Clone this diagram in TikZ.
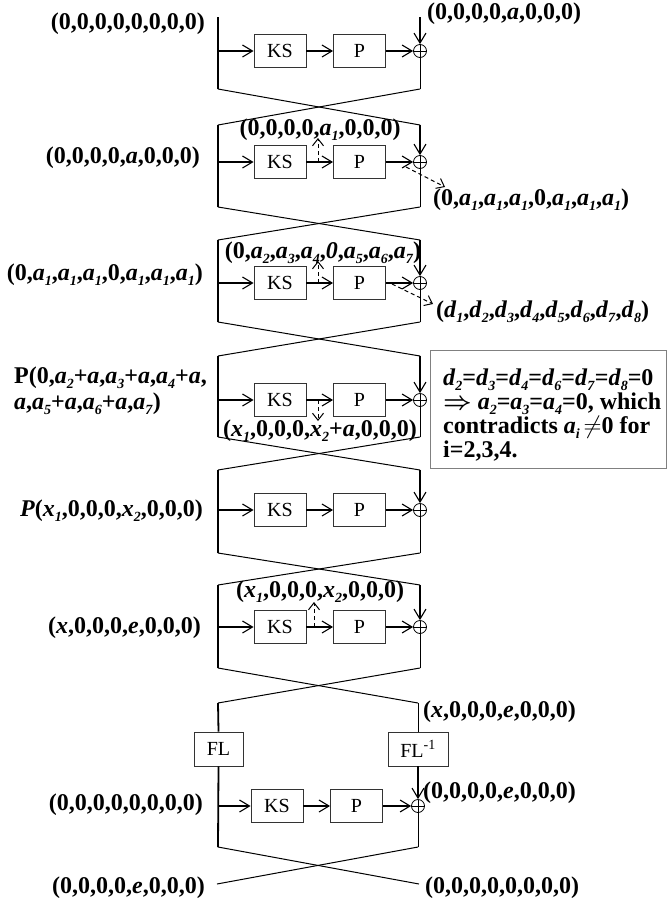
\documentclass[tikz,border=0pt]{standalone}
\usepackage{fontspec}
\setmainfont{Liberation Serif}
\usetikzlibrary{arrows.meta}
\newcommand\sv[2]{\textit{#1}\raisebox{-0.22em}{\fontsize{14}{14}\selectfont\textit{#2}}}
\begin{document}
\begin{tikzpicture}[x=1pt,y=-1pt,
 lbl/.style={font=\fontsize{24}{26}\selectfont\bfseries, inner sep=0pt},
 blk/.style={draw=black!80, line width=0.9pt, minimum width=52pt, minimum height=33pt, inner sep=0pt, font=\fontsize{20}{20}\selectfont},
 arr/.style={line width=1.1pt, -{Straight Barb[length=10pt,width=12pt]}},
 dar/.style={line width=1pt, dash pattern=on 4pt off 3pt, -{Straight Barb[length=7pt,width=11pt]}},
 ln/.style={line width=1pt},
 thk/.style={line width=1.8pt},
 xorn/.style={circle, draw, minimum size=13pt, inner sep=0pt, line width=0.8pt,
   path picture={\draw[line width=0.8pt] (path picture bounding box.north) -- (path picture bounding box.south) (path picture bounding box.west) -- (path picture bounding box.east);}}
]
\useasboundingbox (0,0) rectangle (667,903);

% rounds 1-6
\foreach \r/\t/\m/\b in {1/17/51/89,2/125/162/207,3/240/283/322,4/356/400/437,5/470/510/553,6/585/627/668}{
  \coordinate (tl\r) at (218,\t);
  \coordinate (ml\r) at (218,\m);
  \coordinate (bl\r) at (218,\b);
  \coordinate (tr\r) at (420,\t);
  \coordinate (br\r) at (420,\b);
  \node[blk] (ks\r) at (280,\m) {KS};
  \node[blk] (p\r) at (359.5,\m) {P};
  \node[xorn] (x\r) at (420,\m) {};
  \draw[thk] (tl\r) -- (bl\r);
  \draw[arr] (ml\r) -- (ks\r);
  \draw[arr] (ks\r) -- (p\r);
  \draw[arr] (p\r) -- (x\r);
  \draw[arr] (tr\r) -- (x\r);
  \draw[ln] (x\r) -- (br\r);
}
\foreach \r/\n in {1/2,2/3,3/4,4/5,5/6}{
  \draw[ln] (bl\r) -- (tr\n);
  \draw[ln] (br\r) -- (tl\n);
}

% FL stage
\coordinate (fl) at (218,703);
\coordinate (fr) at (418,703);
\draw[ln] (bl6) -- (fr);
\draw[ln] (br6) -- (fl);
\node[blk, minimum width=49pt, minimum height=34pt] (FL) at (218.5,749) {FL};
\node[blk, minimum width=60pt, minimum height=34pt] (FLi) at (418,749) {FL\textsuperscript{-1}};
\draw[thk] (fl) -- (FL.north);
\draw[ln] (fr) -- (FLi.north);

% round 7
\coordinate (ml7) at (218,806);
\coordinate (bl7) at (218,847);
\coordinate (br7) at (418,847);
\node[blk] (ks7) at (277,806) {KS};
\node[blk] (p7) at (356.5,806) {P};
\node[xorn] (x7) at (418,806) {};
\draw[thk] (FL.south) -- (bl7);
\draw[arr] (ml7) -- (ks7);
\draw[arr] (ks7) -- (p7);
\draw[arr] (p7) -- (x7);
\draw[arr] (FLi.south) -- (x7);
\draw[ln] (x7) -- (br7);
\coordinate (el) at (217,884);
\coordinate (er) at (419,884);
\draw[ln] (bl7) -- (er);
\draw[ln] (br7) -- (el);

% dashed arrows
\coordinate (d2a) at (318,162); \coordinate (d2b) at (318,138);
\draw[dar] (d2a) -- (d2b);
\coordinate (e2a) at (406,167); \coordinate (e2b) at (445,187);
\draw[dar] (e2a) -- (e2b);
\coordinate (d3a) at (318,283); \coordinate (d3b) at (318,261);
\draw[dar] (d3a) -- (d3b);
\coordinate (e3a) at (392,284); \coordinate (e3b) at (433,304);
\draw[dar] (e3a) -- (e3b);
\coordinate (d4a) at (318,400); \coordinate (d4b) at (318,421);
\draw[dar] (d4a) -- (d4b);
\coordinate (d6a) at (314,627); \coordinate (d6b) at (314,602);
\draw[dar] (d6a) -- (d6b);

% labels
\node[lbl, anchor=east] (l1) at (205,24) {(0,0,0,0,0,0,0,0)};
\node[lbl, anchor=west] (r1) at (427,14) {(0,0,0,0,\textit{a},0,0,0)};
\node[lbl] (t2) at (320,130) {(0,0,0,0,\sv{a}{1},0,0,0)};
\node[lbl, anchor=east] (l2) at (200,158) {(0,0,0,0,\textit{a},0,0,0)};
\node[lbl, anchor=west] (r2) at (433,200) {(0,\sv a1,\sv a1,\sv a1,0,\sv a1,\sv a1,\sv a1)};
\node[lbl] (t3) at (323,253) {(0,\sv a2,\sv a3,\sv a4,\textit{0},\sv a5,\sv a6,\sv a7)};
\node[lbl, anchor=east] (l3) at (203,275) {(0,\sv a1,\sv a1,\sv a1,0,\sv a1,\sv a1,\sv a1)};
\node[lbl, anchor=west] (r3) at (436,312) {(\sv d1,\sv d2,\sv d3,\sv d4,\sv d5,\sv d6,\sv d7,\sv d8)};
\node[lbl, anchor=east, align=left] (l4) at (207,391) {P(0,\sv a2+\textit{a},\sv a3+\textit{a},\sv a4+\textit{a},\\\textit{a},\sv a5+\textit{a},\sv a6+\textit{a},\sv a7)};
\node[lbl] (b4) at (320,431) {(\sv x1,0,0,0,\sv x2+\textit{a},0,0,0)};
\node[lbl, anchor=east] (l5) at (203,511) {\textit{P}(\sv x1,0,0,0,\sv x2,0,0,0)};
\node[lbl] (t6) at (320,592) {(\sv x1,0,0,0,\sv x2,0,0,0)};
\node[lbl, anchor=east] (l6) at (201,628) {(\textit{x},0,0,0,\textit{e},0,0,0)};
\node[lbl, anchor=west] (rf) at (423,712) {(\textit{x},0,0,0,\textit{e},0,0,0)};
\node[lbl, anchor=east] (l7) at (203,805) {(0,0,0,0,0,0,0,0)};
\node[lbl, anchor=west] (r7) at (423,793) {(0,0,0,0,\textit{e},0,0,0)};
\node[lbl, anchor=east] (lb) at (205,888) {(0,0,0,0,\textit{e},0,0,0)};
\node[lbl, anchor=west] (rb) at (425,888) {(0,0,0,0,0,0,0,0)};

% note box
\draw[draw=gray, line width=1pt] (430,350) rectangle (666,468);
\node[lbl, anchor=base west] (n1) at (443,385) {\sv d2=\sv d3=\sv d4=\sv d6=\sv d7=\sv d8=0};
\node[lbl, anchor=base west] (n2) at (443,409) {{\boldmath$\Rightarrow$} \sv a2=\sv a3=\sv a4=0, which};
\node[lbl, anchor=base west] (n3) at (443,433) {contradicts \sv ai\,$\neq$0 for};
\node[lbl, anchor=base west] (n4) at (443,457) {i=2,3,4.};
\end{tikzpicture}
\end{document}
